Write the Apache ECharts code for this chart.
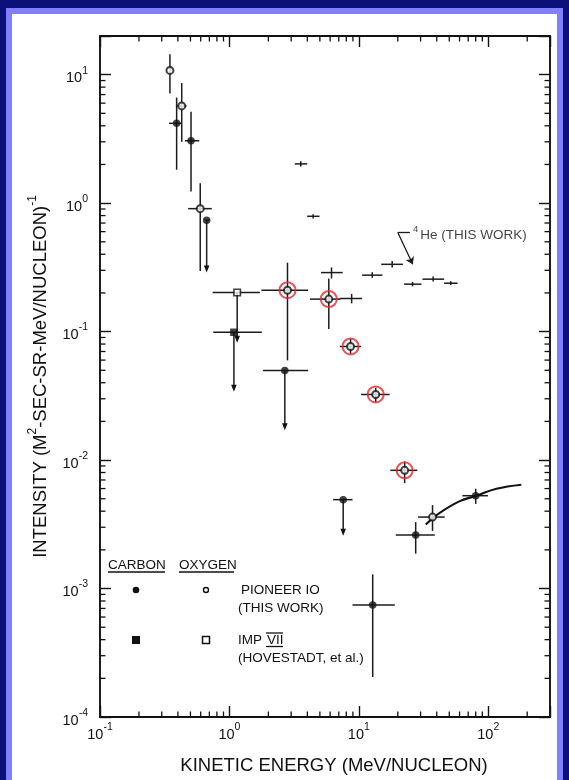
<!DOCTYPE html>
<html>
<head>
<meta charset="utf-8">
<script src="https://cdn.jsdelivr.net/npm/echarts@6/dist/echarts.min.js"></script>
<style>
html,body{margin:0;padding:0;width:569px;height:780px;overflow:hidden;background:#0c117a;}
#frame{position:absolute;left:6px;top:8px;width:557px;height:772px;background:#8080fc;}
#paper{position:absolute;left:12px;top:14px;width:545px;height:766px;background:#ffffff;}
#chart{position:absolute;left:0;top:0;width:569px;height:780px;}
</style>
</head>
<body>
<div id="frame"></div><div id="paper"></div><div id="chart"></div>
<script>
// ---------- axis ranges & tick labels ----------
const X_MIN = 0.1, X_MAX = 300, Y_MIN = 1e-4, Y_MAX = 20;
const xDecades = [0.1, 1, 10, 100];
const xDecadeExps = ['-1', '0', '1', '2'];
const yDecades = [1e-4, 1e-3, 1e-2, 1e-1, 1, 10];
const yDecadeExps = ['-4', '-3', '-2', '-1', '0', '1'];
const minorSteps = [2, 3, 4, 5, 6, 7, 8, 9];

// ---------- data: [energy, intensity, eLow, eHigh, iLow, iHigh, upperLimit] ----------
const carbonPioneer = [
  [0.391, 4.18, 0.342, 0.428, 1.82, 6.64, 0],
  [0.505, 3.06, 0.453, 0.585, 1.23, 5.14, 0],
  [0.667, 0.736, 0.645, 0.700, 0.288, 0.736, 1],
  [2.68, 0.0499, 1.82, 4.06, 0.0171, 0.0499, 1],
  [7.57, 0.00492, 6.33, 8.94, 0.00257, 0.00492, 1],
  [12.8, 0.000745, 8.94, 18.97, 0.000205, 0.00129, 0],
  [27.5, 0.00261, 19.3, 38.6, 0.00187, 0.00329, 0],
  [80.0, 0.00528, 63.1, 99.5, 0.00456, 0.00598, 0]
];
const oxygenPioneer = [
  [0.347, 10.8, 0.347, 0.347, 7.13, 14.4, 0],
  [0.428, 5.71, 0.386, 0.466, 3.0, 8.6, 0],
  [0.595, 0.906, 0.48, 0.73, 0.296, 1.43, 0],
  [2.81, 0.210, 1.77, 4.06, 0.0597, 0.344, 0],
  [5.86, 0.179, 4.19, 7.2, 0.105, 0.259, 0],
  [8.63, 0.0766, 7.13, 10.4, 0.0671, 0.0878, 0],
  [13.5, 0.0324, 10.4, 17.3, 0.0284, 0.0365, 0],
  [22.6, 0.00832, 17.5, 28.3, 0.00662, 0.00975, 0],
  [37.1, 0.0036, 28.7, 46.1, 0.00281, 0.00446, 0]
];
const oxygenHighlighted = [0, 0, 0, 1, 1, 1, 1, 1, 0];
const carbonIMP = [[1.083, 0.0988, 0.75, 1.78, 0.034, 0.0988, 1]];
const oxygenIMP = [[1.148, 0.2017, 0.742, 1.72, 0.0818, 0.2017, 1]];
const helium = [
  [3.56, 2.02, 3.2, 3.99, 1.93, 2.12, 0],
  [4.43, 0.79, 3.99, 4.97, 0.76, 0.82, 0],
  [6.15, 0.288, 5.1, 7.5, 0.259, 0.316, 0],
  [8.8, 0.181, 7.13, 10.6, 0.166, 0.196, 0],
  [12.7, 0.275, 10.6, 15.2, 0.262, 0.29, 0],
  [18.1, 0.334, 14.9, 21.9, 0.315, 0.355, 0],
  [26.0, 0.234, 22.4, 30.5, 0.225, 0.244, 0],
  [37.5, 0.256, 31.0, 45.6, 0.245, 0.268, 0],
  [51.3, 0.238, 45.6, 58.0, 0.23, 0.247, 0]
];
const fitEnergy = [32.9, 42.2, 60.3, 81.1, 115.6, 180];
const fitIntensity = [0.00315, 0.00388, 0.00479, 0.00528, 0.00598, 0.00643];
const leaderEnergy = [24.8, 20.0, 26.1];
const leaderIntensity = [0.59, 0.59, 0.334];
const annotationPoint = [26.0, 0.59];

// ---------- styling ----------
const FONT = "'Liberation Sans', Arial, sans-serif";
const INK = '#111111';
const LINE = '#1c1c1c';
const RED = '#e8242a';

const xMinorTicks = [];
xDecades.forEach(d => minorSteps.forEach(m => { const v = d * m; if (v < X_MAX * 0.999) xMinorTicks.push(v); }));
const yMinorTicks = [];
yDecades.forEach(d => minorSteps.forEach(m => { const v = d * m; if (v < Y_MAX * 0.999) yMinorTicks.push(v); }));

function powLabel(decades, exps) {
  return function (v) {
    for (let i = 0; i < decades.length; i++) {
      if (Math.abs(Math.log10(v / decades[i])) < 1e-3) return '{b|10}{s|' + exps[i] + '}';
    }
    return '';
  };
}
const labelRich = {
  b: { fontFamily: FONT, fontSize: 14.5, color: INK, padding: [7, 0, 0, 0] },
  s: { fontFamily: FONT, fontSize: 10.5, color: INK, padding: [0, 0, 8, 0] }
};

function baseAxis(extra) {
  return Object.assign({
    type: 'log', logBase: 10, gridIndex: 0,
    axisLine: { show: true, onZero: false, lineStyle: { color: INK, width: 1.9 } },
    axisTick: { show: true, inside: true, length: 11, lineStyle: { color: INK, width: 1.4 } },
    minorTick: { show: false },
    splitLine: { show: false },
    axisLabel: { show: false }
  }, extra);
}

function renderErr(params, api) {
  const x = api.value(0), y = api.value(1);
  const c = api.coord([x, y]);
  const xl = api.coord([api.value(2), y]);
  const xh = api.coord([api.value(3), y]);
  const yl = api.coord([x, api.value(4)]);
  const yh = api.coord([x, api.value(5)]);
  const lim = api.value(6) === 1;
  const st = { stroke: LINE, lineWidth: 1.5, fill: null };
  const ch = [];
  if (xh[0] - xl[0] > 0.5) ch.push({ type: 'line', shape: { x1: xl[0], y1: c[1], x2: xh[0], y2: c[1] }, style: st });
  if (yl[1] - yh[1] > 0.5) ch.push({ type: 'line', shape: { x1: c[0], y1: yh[1], x2: c[0], y2: lim ? yl[1] - 4 : yl[1] }, style: st });
  if (lim) ch.push({ type: 'polygon', shape: { points: [[c[0] - 2.8, yl[1] - 7], [c[0] + 2.8, yl[1] - 7], [c[0], yl[1]]] }, style: { fill: INK } });
  return { type: 'group', children: ch };
}
function errSeries(rows) {
  return { type: 'custom', xAxisIndex: 0, yAxisIndex: 0, z: 3, silent: true, clip: false,
    encode: { x: 0, y: 1 }, data: rows, renderItem: renderErr };
}
function minorTickSeries(kind) {
  const data = kind === 'x' ? xMinorTicks.map(v => [v, Y_MIN]) : yMinorTicks.map(v => [X_MIN, v]);
  return { type: 'custom', xAxisIndex: 0, yAxisIndex: 0, z: 2, silent: true, clip: false,
    encode: { x: 0, y: 1 }, data,
    renderItem: function (params, api) {
      const lo = api.coord([X_MIN, Y_MIN]);
      const hi = api.coord([X_MAX, Y_MAX]);
      const L = 5.5;
      const st = { stroke: INK, lineWidth: 1.3 };
      if (kind === 'x') {
        const px = api.coord([api.value(0), Y_MIN])[0];
        return { type: 'group', children: [
          { type: 'line', shape: { x1: px, y1: lo[1], x2: px, y2: lo[1] - L }, style: st },
          { type: 'line', shape: { x1: px, y1: hi[1], x2: px, y2: hi[1] + L }, style: st }
        ] };
      }
      const py = api.coord([X_MIN, api.value(1)])[1];
      return { type: 'group', children: [
        { type: 'line', shape: { x1: lo[0], y1: py, x2: lo[0] + L, y2: py }, style: st },
        { type: 'line', shape: { x1: hi[0], y1: py, x2: hi[0] - L, y2: py }, style: st }
      ] };
    } };
}
const pts = rows => rows.map(r => [r[0], r[1]]);

const legendText = (x, y, s) => ({ type: 'text', x, y, style: { text: s, font: '13.5px ' + FONT, fill: INK, verticalAlign: 'middle', align: 'left' } });
const hline = (x1, x2, y) => ({ type: 'line', shape: { x1, y1: y, x2, y2: y }, style: { stroke: INK, lineWidth: 1.3 } });

const chart = echarts.init(document.getElementById('chart'), null, { renderer: 'canvas' });
chart.setOption({
  animation: false,
  backgroundColor: 'transparent',
  grid: { left: 100, right: 19, top: 36, bottom: 60, containLabel: false },
  xAxis: [
    baseAxis({ position: 'bottom', min: X_MIN, max: X_MAX,
      axisLabel: { show: true, margin: 3, formatter: powLabel(xDecades, xDecadeExps), rich: labelRich },
      name: 'KINETIC ENERGY (MeV/NUCLEON)', nameLocation: 'middle', nameGap: 39,
      nameTextStyle: { fontFamily: FONT, fontSize: 18.5, color: INK, padding: [0, 0, 0, 18] } }),
    baseAxis({ position: 'top', min: X_MIN, max: X_MAX })
  ],
  yAxis: [
    baseAxis({ position: 'left', min: Y_MIN, max: Y_MAX,
      axisLabel: { show: true, margin: 12, formatter: powLabel(yDecades, yDecadeExps), rich: labelRich },
      name: '{t|INTENSITY (M}{s|2}{t|-SEC-SR-MeV/NUCLEON)}{s|-1}', nameLocation: 'middle', nameGap: 50,
      nameTextStyle: { fontFamily: FONT, fontSize: 18.5, color: INK,
        rich: { t: { fontFamily: FONT, fontSize: 18.5, color: INK, padding: [6, 0, 0, 0] },
                s: { fontFamily: FONT, fontSize: 12, color: INK, padding: [0, 0, 9, 0] } } } }),
    baseAxis({ position: 'right', min: Y_MIN, max: Y_MAX })
  ],
  graphic: [
    legendText(108, 565, 'CARBON'), hline(108, 165, 572),
    legendText(179, 565, 'OXYGEN'), hline(179, 234, 572),
    { type: 'circle', shape: { cx: 136, cy: 590, r: 3.3 }, style: { fill: INK } },
    { type: 'circle', shape: { cx: 206, cy: 590, r: 2.5 }, style: { fill: '#fff', stroke: INK, lineWidth: 1.4 } },
    legendText(241, 590, 'PIONEER IO'),
    legendText(238, 608, '(THIS WORK)'),
    { type: 'rect', shape: { x: 132, y: 636, width: 8, height: 8 }, style: { fill: INK } },
    { type: 'rect', shape: { x: 202.5, y: 636.5, width: 7, height: 7 }, style: { fill: '#fff', stroke: INK, lineWidth: 1.5 } },
    legendText(238, 640, 'IMP'),
    legendText(267, 640, 'VII'), hline(266, 283, 633), hline(266, 283, 646.5),
    legendText(238, 658, '(HOVESTADT, et al.)')
  ],
  series: [
    minorTickSeries('x'),
    minorTickSeries('y'),
    errSeries(helium),
    errSeries(carbonPioneer),
    errSeries(oxygenPioneer),
    errSeries(carbonIMP),
    errSeries(oxygenIMP),
    { type: 'line', xAxisIndex: 0, yAxisIndex: 0, z: 3, silent: true, smooth: 0.4, symbol: 'none',
      data: fitEnergy.map((e, i) => [e, fitIntensity[i]]), lineStyle: { color: INK, width: 2.1 } },
    { type: 'scatter', xAxisIndex: 0, yAxisIndex: 0, z: 4, silent: true, symbol: 'circle', symbolSize: 16,
      data: pts(oxygenPioneer.filter((r, i) => oxygenHighlighted[i] === 1)),
      itemStyle: { color: 'rgba(0,0,0,0)', borderColor: RED, borderWidth: 2 } },
    { type: 'scatter', xAxisIndex: 0, yAxisIndex: 0, z: 5, silent: true, symbol: 'circle', symbolSize: 7.5,
      data: pts(carbonPioneer), itemStyle: { color: INK } },
    { type: 'scatter', xAxisIndex: 0, yAxisIndex: 0, z: 5, silent: true, symbol: 'circle', symbolSize: 7,
      data: pts(oxygenPioneer), itemStyle: { color: '#fff', borderColor: INK, borderWidth: 2 } },
    { type: 'scatter', xAxisIndex: 0, yAxisIndex: 0, z: 5, silent: true, symbol: 'rect', symbolSize: 7.5,
      data: pts(carbonIMP), itemStyle: { color: INK } },
    { type: 'scatter', xAxisIndex: 0, yAxisIndex: 0, z: 5, silent: true, symbol: 'rect', symbolSize: 6.5,
      data: pts(oxygenIMP), itemStyle: { color: '#fff', borderColor: INK, borderWidth: 1.6 } },
    { type: 'scatter', xAxisIndex: 0, yAxisIndex: 0, z: 5, silent: true, symbolSize: 1,
      data: [annotationPoint], itemStyle: { color: 'rgba(0,0,0,0)' },
      label: { show: true, position: 'right', distance: 0, formatter: '{s|4}{t|He (THIS WORK)}',
        rich: { t: { fontFamily: FONT, fontSize: 13.5, color: INK, padding: [5, 0, 0, 2] },
                s: { fontFamily: FONT, fontSize: 9.5, color: INK, padding: [0, 0, 6, 0] } } },
      markLine: { silent: true, symbol: ['none', 'arrow'], symbolSize: 7, animation: false,
        label: { show: false }, lineStyle: { type: 'solid', color: LINE, width: 1.3 },
        data: [
          [{ coord: [leaderEnergy[1], leaderIntensity[1]], symbol: 'none' }, { coord: [leaderEnergy[2], leaderIntensity[2]], symbol: 'arrow' }],
          [{ coord: [leaderEnergy[0], leaderIntensity[0]], symbol: 'none' }, { coord: [leaderEnergy[1], leaderIntensity[1]], symbol: 'none' }]
        ] } }
  ]
});
</script>
</body>
</html>
